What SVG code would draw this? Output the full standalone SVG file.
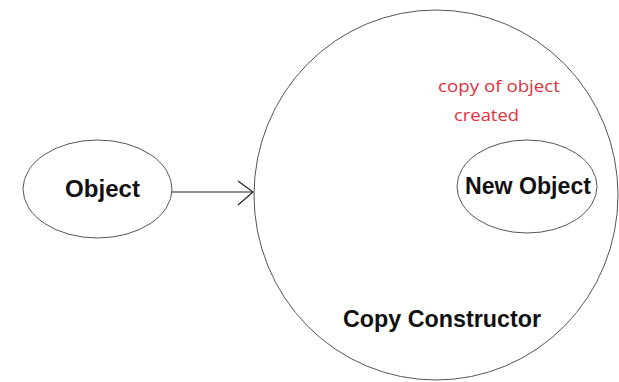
<svg xmlns="http://www.w3.org/2000/svg" width="619" height="382" viewBox="0 0 619 382">
<style>
.shape{fill:#fff;stroke:#555;stroke-width:1}
.lbl{font-family:"Liberation Sans",Arial,sans-serif;font-weight:bold;fill:#111}
.note{font-family:"Open Sans","Liberation Sans",sans-serif;fill:#e0303c;font-size:17px}
.conn{stroke:#222;stroke-width:1.2;fill:none}
</style>
<rect width="619" height="382" fill="#fff"/>
<g id="copy-constructor">
<ellipse class="shape" cx="436" cy="195" rx="182" ry="185"/>
<text class="lbl" x="343" y="327" font-size="24" textLength="198" lengthAdjust="spacingAndGlyphs">Copy Constructor</text>
</g>
<g id="note">
<text class="note" x="438" y="92" textLength="122" lengthAdjust="spacingAndGlyphs">copy of object</text>
<text class="note" x="454" y="121" textLength="65" lengthAdjust="spacingAndGlyphs">created</text>
</g>
<g id="new-object">
<ellipse class="shape" cx="527" cy="186.5" rx="70" ry="46.5"/>
<text class="lbl" x="465" y="194" font-size="23" textLength="126" lengthAdjust="spacingAndGlyphs">New Object</text>
</g>
<g id="object">
<ellipse class="shape" cx="97.5" cy="189" rx="74.5" ry="49"/>
<text class="lbl" x="65" y="197" font-size="24" textLength="75" lengthAdjust="spacingAndGlyphs">Object</text>
</g>
<g id="connectors">
<line class="conn" x1="172" y1="192" x2="253" y2="192"/>
<polyline class="conn" points="238,181 253,192 238,205"/>
</g>
</svg>
